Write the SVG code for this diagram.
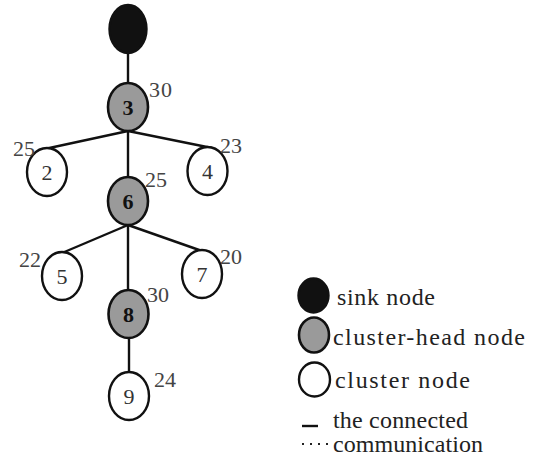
<svg xmlns="http://www.w3.org/2000/svg" width="534" height="459" viewBox="0 0 534 459">
  <style>
    .edge { stroke: #111; stroke-width: 2.4; fill: none; }
    .sink { fill: #111; stroke: #111; stroke-width: 2.4; }
    .head { fill: #9a9a9a; stroke: #111; stroke-width: 2.6; }
    .member { fill: #fff; stroke: #111; stroke-width: 2.4; }
    text { font-family: 'Liberation Serif', 'DejaVu Serif', serif; font-size: 22px; }
    .id { fill: #333; text-anchor: middle; }
    .idb { font-weight: bold; fill: #111; text-anchor: middle; }
    .num { fill: #444; }
    .leg { fill: #222; font-size: 24px; }
  </style>

  <!-- tree links -->
  <g id="connectors">
    <line class="edge" x1="128" y1="53" x2="128" y2="83"/>
    <line class="edge" x1="128" y1="131" x2="128" y2="177"/>
    <line class="edge" x1="128" y1="131" x2="40" y2="150"/>
    <line class="edge" x1="128" y1="131" x2="212" y2="148"/>
    <line class="edge" x1="128" y1="225" x2="128" y2="290"/>
    <line class="edge" x1="128" y1="225" x2="62" y2="253"/>
    <line class="edge" x1="128" y1="225" x2="202" y2="251"/>
    <line class="edge" x1="129" y1="338" x2="129" y2="372"/>
  </g>

  <g id="sink">
    <ellipse class="sink" cx="128" cy="29" rx="18.5" ry="24"/>
  </g>
  <g id="node3">
    <ellipse class="head" cx="128" cy="107" rx="20" ry="24"/>
    <text class="idb" x="128" y="115">3</text>
    <text class="num" x="149" y="97" textLength="23">30</text>
  </g>
  <g id="node2">
    <ellipse class="member" cx="47" cy="172" rx="20" ry="24"/>
    <text class="id" x="47" y="180">2</text>
    <text class="num" x="13" y="156" textLength="22">25</text>
  </g>
  <g id="node4">
    <ellipse class="member" cx="207.5" cy="171" rx="20" ry="24"/>
    <text class="id" x="207.5" y="179">4</text>
    <text class="num" x="220" y="153" textLength="22">23</text>
  </g>
  <g id="node6">
    <ellipse class="head" cx="128" cy="201" rx="20" ry="24"/>
    <text class="idb" x="128" y="209">6</text>
    <text class="num" x="145" y="187" textLength="22">25</text>
  </g>
  <g id="node5">
    <ellipse class="member" cx="62" cy="276" rx="20" ry="24"/>
    <text class="id" x="62" y="284">5</text>
    <text class="num" x="19" y="267" textLength="22">22</text>
  </g>
  <g id="node7">
    <ellipse class="member" cx="202" cy="274" rx="20" ry="24"/>
    <text class="id" x="202" y="282">7</text>
    <text class="num" x="220" y="264" textLength="22">20</text>
  </g>
  <g id="node8">
    <ellipse class="head" cx="128.5" cy="314" rx="20" ry="24"/>
    <text class="idb" x="128.5" y="322">8</text>
    <text class="num" x="147" y="302" textLength="22">30</text>
  </g>
  <g id="node9">
    <ellipse class="member" cx="129" cy="396" rx="20" ry="24"/>
    <text class="id" x="129" y="404">9</text>
    <text class="num" x="154" y="387" textLength="22">24</text>
  </g>

  <!-- legend -->
  <g id="legend">
    <ellipse class="sink" cx="313.5" cy="295.5" rx="15" ry="17"/>
    <text class="leg" x="337" y="305" textLength="98">sink node</text>
    <ellipse class="head" cx="314" cy="335" rx="15" ry="17.5"/>
    <text class="leg" x="333" y="345" textLength="192">cluster-head node</text>
    <ellipse class="member" cx="314.5" cy="379.5" rx="15.5" ry="17"/>
    <text class="leg" x="335" y="388" textLength="135">cluster node</text>
    <line class="edge" x1="302" y1="426" x2="318" y2="426"/>
    <text class="leg" x="333" y="428" textLength="135">the connected</text>
    <line x1="302" y1="444" x2="330" y2="444" stroke="#222" stroke-width="2" stroke-dasharray="2 6"/>
    <text class="leg" x="333" y="452" textLength="150">communication</text>
  </g>
</svg>
